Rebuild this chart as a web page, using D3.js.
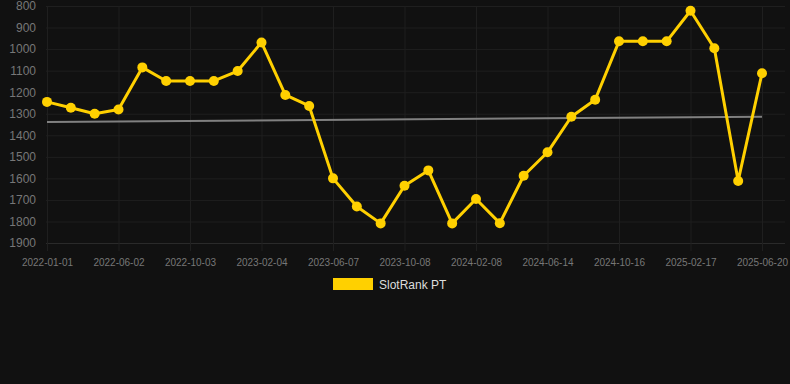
<!DOCTYPE html>
<html>
<head>
<meta charset="utf-8">
<script src="https://cdn.jsdelivr.net/npm/d3@7"></script>
<style>
	html, body { margin: 0; padding: 0; background: #111111; }
	#draw { width: 790px; height: 384px; }
	text { font-family: Arial, "Liberation Sans", sans-serif; }
</style>
</head>
<body>
<div id="draw"></div>
<script>
var ranks = [1245, 1272, 1300, 1280, 1085, 1148, 1148, 1148, 1102, 969,
	1213, 1264, 1600, 1731, 1809, 1634, 1563, 1809, 1696, 1808,
	1588, 1479, 1314, 1235, 964, 964, 964, 822, 996, 1612, 1112];
var tickLabels = ["2022-01-01", "2022-06-02", "2022-10-03", "2023-02-04", "2023-06-07",
	"2023-10-08", "2024-02-08", "2024-06-14", "2024-10-16", "2025-02-17", "2025-06-20"];
var yTicks = [800, 900, 1000, 1100, 1200, 1300, 1400, 1500, 1600, 1700, 1800, 1900];
var trend = [1338, 1314];
var seriesName = "SlotRank PT";

function drawChart() {
	var width = 790, height = 384;
	var left = 47, right = 762, top = 6, bottom = 243;
	var gold = "#ffd000";

	var x = d3.scalePoint()
		.domain(d3.range(ranks.length))
		.range([left, right]);
	var y = d3.scaleLinear()
		.domain([800, 1900])
		.range([top, bottom]);

	var svg = d3.select("#draw").append("svg")
		.attr("width", width)
		.attr("height", height);

	// x ticks are every third point
	var tickIdx = tickLabels.map(function(d, i){ return i * 3; });

	var yAxis = d3.axisLeft(y)
		.tickValues(yTicks)
		.tickSize(-(right - left + 24))
		.tickPadding(10)
		.tickFormat(d3.format("d"));
	var gy = svg.append("g")
		.attr("transform", "translate(" + (left - 1) + ",0)")
		.call(yAxis);
	gy.select(".domain").remove();
	gy.selectAll(".tick line")
		.attr("stroke", function(d){ return d == 1900 ? "#2a2a2a" : "#1f1f1f"; });
	gy.selectAll(".tick text")
		.attr("x", -10)
		.attr("fill", "#777")
		.style("font-size", "12px");

	var xAxis = d3.axisBottom(x)
		.tickValues(tickIdx)
		.tickSize(-(bottom - top) - 8)
		.tickPadding(8)
		.tickFormat(function(d){ return tickLabels[d / 3]; });
	var gx = svg.append("g")
		.attr("transform", "translate(0," + (bottom + 8) + ")")
		.call(xAxis);
	gx.select(".domain").remove();
	gx.selectAll(".tick line").attr("stroke", "#1f1f1f");
	gx.selectAll(".tick text")
		.attr("fill", "#777")
		.style("font-size", "10px");

	// trend line
	svg.append("line")
		.attr("x1", x(0))
		.attr("x2", x(ranks.length - 1))
		.attr("y1", y(trend[0]))
		.attr("y2", y(trend[1]))
		.attr("stroke", "#808080")
		.attr("stroke-width", 2);

	var line = d3.line()
		.x(function(d, i){ return x(i); })
		.y(function(d){ return y(d); });

	svg.append("path")
		.datum(ranks)
		.attr("d", line)
		.attr("fill", "none")
		.attr("stroke", gold)
		.attr("stroke-width", 3)
		.attr("stroke-linejoin", "round");

	svg.selectAll(".dot")
		.data(ranks)
		.enter()
		.append("circle")
		.attr("class", "dot")
		.attr("cx", function(d, i){ return x(i); })
		.attr("cy", function(d){ return y(d); })
		.attr("r", 5)
		.attr("fill", gold);

	// legend
	var lg = svg.append("g").attr("transform", "translate(333,278)");
	lg.append("rect")
		.attr("width", 40)
		.attr("height", 12)
		.attr("fill", gold);
	lg.append("text")
		.attr("x", 46)
		.attr("y", 10.5)
		.attr("fill", "#dddddd")
		.style("font-size", "12px")
		.text(seriesName);
}

drawChart();
</script>
</body>
</html>
